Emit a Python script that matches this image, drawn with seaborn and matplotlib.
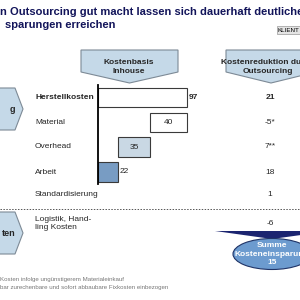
import matplotlib
matplotlib.use("Agg")
import matplotlib.pyplot as plt
from matplotlib.patches import Polygon, Ellipse, Rectangle
import seaborn as sns

# data
rows = ["Herstellkosten", "Material", "Overhead", "Arbeit"]
bar_start = [0, 57, 22, 0]
bar_size = [97, 40, 35, 22]
bar_labels = ["97", "40", "35", "22"]
label_inside = [False, True, True, False]
bar_colors = ["white", "white", "#c5d9e8", "#6c9bcf"]

extra_rows = ["Standardisierung", "Logistik, Hand-\nling Kosten"]
reduktion = ["21", "-5*", "7**", "18", "1", "-6"]
summe = 15

sns.set_style("white")
plt.rcParams["font.family"] = ["Liberation Sans", "DejaVu Sans"]

navy = "#12145a"
light = "#c5d9e8"
edge_gray = "#7d8a96"

fig = plt.figure(figsize=(3, 3), dpi=100)

# background axes in pixel units for the slide decoration
bg = fig.add_axes([0, 0, 1, 1])
bg.set_xlim(0, 300)
bg.set_ylim(300, 0)
bg.axis("off")

bg.text(0, 12, "n Outsourcing gut macht lassen sich dauerhaft deutliche",
        fontsize=8, fontweight="bold", color=navy, va="center", ha="left")
bg.text(5, 25, "sparungen erreichen",
        fontsize=8, fontweight="bold", color=navy, va="center", ha="left")
bg.add_patch(Rectangle((277, 26), 26, 8, facecolor="#e4e4e4", edgecolor="#999999", lw=0.5))
bg.text(278, 30.5, "KLIENT", fontsize=4.5, va="center", ha="left", color="black")

# column headers (downward pentagons)
for x0, x1, tx, lines in [(81, 178, 129, ["Kostenbasis", "Inhouse"]),
                          (226, 316, 268, ["Kostenreduktion durch", "Outsourcing"])]:
    mid = (x0 + x1) / 2
    bg.add_patch(Polygon([(x0, 50), (x1, 50), (x1, 72), (mid, 83), (x0, 72)],
                         closed=True, facecolor=light, edgecolor=edge_gray, lw=0.8))
    bg.text(tx, 62.5, lines[0], fontsize=6, fontweight="bold", ha="center", va="center")
    bg.text(tx, 71.5, lines[1], fontsize=6, fontweight="bold", ha="center", va="center")

# left side pentagons
for y0, y1, txt in [(88, 130, "g"), (212, 254, "ten")]:
    ym = (y0 + y1) / 2
    bg.add_patch(Polygon([(-5, y0), (15, y0), (23, ym), (15, y1), (-5, y1)],
                         closed=True, facecolor=light, edgecolor=edge_gray, lw=0.8))
    bg.text(15, ym, txt, fontsize=6.5, fontweight="bold", ha="right", va="center")

# row labels and reduction values
row_y = [97.5, 122, 146.5, 172, 195, 223.5]
all_rows = rows + extra_rows
for i, (name, y) in enumerate(zip(all_rows, row_y)):
    bold = "bold" if i == 0 else "normal"
    bg.text(35, y, name, fontsize=6, fontweight=bold, ha="left", va="center",
            linespacing=1.15)
    bg.text(270, y, reduktion[i], fontsize=6, fontweight=bold, ha="center", va="center")

bg.plot([0, 300], [209, 209], color="#555555", lw=0.7, ls=(0, (1.5, 1.5)))

# Summe ellipse with arrow head
bg.add_patch(Polygon([(215, 231), (330, 231), (272, 239)], closed=True,
                     facecolor="#1b2470", edgecolor="none"))
bg.add_patch(Ellipse((272, 254), 78, 31, facecolor="#6c9bcf", edgecolor="#1f3366", lw=0.8))
for dy, t in [(-8.5, "Summe"), (0, "Kosteneinsparung"), (8.5, str(summe))]:
    bg.text(272, 254 + dy, t, fontsize=6, fontweight="bold", color="white",
            ha="center", va="center")

bg.text(0, 279, "Kosten infolge ungünstigerem Materialeinkauf",
        fontsize=4.4, color="#777777", ha="left", va="center")
bg.text(0, 287.5, "bar zurechenbare und sofort abbaubare Fixkosten einbezogen",
        fontsize=4.4, color="#777777", ha="left", va="center")

# waterfall bars
px = 0.9175
ax = fig.add_axes([98 / 300, 1 - 184.4 / 300, 100 * px / 300, 99.3 / 300])
ax.patch.set_alpha(0)
sns.barplot(x=bar_size, y=rows, hue=rows, palette=bar_colors, orient="h",
            width=0.78, edgecolor="#3a3a3a", linewidth=0.8, legend=False, ax=ax)
for patch, start in zip(ax.patches, bar_start):
    patch.set_x(start)

for i, (s, v, lab, inside) in enumerate(zip(bar_start, bar_size, bar_labels, label_inside)):
    if inside:
        ax.text(s + v / 2, i, lab, fontsize=6, ha="center", va="center")
    else:
        ax.text(s + v + 1.5, i, lab, fontsize=6, ha="left", va="center",
                fontweight="bold" if i == 0 else "normal", clip_on=False)

ax.set_xlim(0, 100)
ax.set_ylim(3.5, -0.5)
ax.set_xticks([])
ax.set_yticks([])
ax.set_xlabel("")
ax.set_ylabel("")
for side in ["top", "right", "bottom"]:
    ax.spines[side].set_visible(False)
ax.spines["left"].set_color("black")
ax.spines["left"].set_linewidth(1.3)

fig.savefig("out.png", dpi=100, facecolor="white")
